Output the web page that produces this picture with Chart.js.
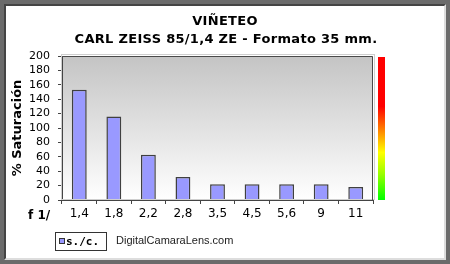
<!DOCTYPE html>
<html>
<head>
<meta charset="utf-8">
<script src="https://cdn.jsdelivr.net/npm/chart.js@4"></script>
<style>
  html, body { margin: 0; padding: 0; background: #6b6b6b; }
  #frame { position: absolute; left: 4px; top: 4px; width: 438px; height: 252px;
           background: #fff; border-top: 2px solid #444; border-left: 2px solid #444;
           border-right: 2px solid #ddd; border-bottom: 2px solid #ddd; }
  #wrap { position: absolute; left: 0; top: 0; width: 450px; height: 264px; }
</style>
</head>
<body>
<div id="frame"></div>
<div id="wrap"><canvas id="vineteo" width="450" height="264"></canvas></div>
<script>
const aperturas = ['1,4', '1,8', '2,2', '2,8', '3,5', '4,5', '5,6', '9', '11'];
const saturacion = [153, 116, 63, 32, 22, 22, 22, 22, 18];
const titulo = ['VIÑETEO', 'CARL ZEISS 85/1,4 ZE - Formato 35 mm.'];
const serie = 's./c.';
const fuente = 'DigitalCamaraLens.com';

// fondo degradado del area de trazado, titulos, barra de color y leyenda
const extras = {
    id: 'extras',
    beforeDraw(chart) {
        const { ctx, chartArea: a } = chart;
        const g = ctx.createLinearGradient(0, a.top, 0, a.bottom);
        g.addColorStop(0, '#c4c4c4');
        g.addColorStop(1, '#ffffff');
        ctx.save();
        ctx.fillStyle = g;
        ctx.fillRect(a.left, a.top, a.right - a.left, a.bottom - a.top);
        ctx.restore();
    },
    afterDraw(chart) {
        const { ctx, chartArea: a } = chart;
        ctx.save();
        // titulos centrados en la imagen
        ctx.fillStyle = '#000';
        ctx.font = 'bold 13px "DejaVu Sans"';
        ctx.textAlign = 'center';
        ctx.textBaseline = 'middle';
        ctx.letterSpacing = '0.3px';
        ctx.fillText(titulo[0], 225, 22);
        ctx.fillText(titulo[1], 226, 40);
        ctx.letterSpacing = '0px';

        // borde del area
        ctx.strokeStyle = '#cfcfcf';
        ctx.lineWidth = 1;
        ctx.strokeRect(a.left - 0.5, a.top - 1.5, a.right - a.left + 2, a.bottom - a.top + 1);
        ctx.strokeStyle = '#4a4a4a';
        ctx.beginPath();
        ctx.moveTo(a.left, a.top + 0.5);
        ctx.lineTo(a.right - 0.5, a.top + 0.5);
        ctx.lineTo(a.right - 0.5, a.bottom);
        ctx.stroke();

        // barra de color
        const cg = ctx.createLinearGradient(0, a.top, 0, a.bottom);
        cg.addColorStop(0, '#ff0000');
        cg.addColorStop(0.35, '#ff0000');
        cg.addColorStop(0.5, '#ff7700');
        cg.addColorStop(0.67, '#ffff00');
        cg.addColorStop(0.82, '#99ff00');
        cg.addColorStop(1, '#00ff00');
        ctx.fillStyle = cg;
        ctx.fillRect(378, a.top + 1, 7, a.bottom - a.top - 1);

        // f 1/
        ctx.fillStyle = '#000';
        ctx.font = 'bold 12px "DejaVu Sans"';
        ctx.textAlign = 'left';
        ctx.fillText('f 1/', 28, 216);

        // leyenda
        ctx.strokeStyle = '#333';
        ctx.strokeRect(55.5, 232.5, 51, 18);
        ctx.fillStyle = '#9999ff';
        ctx.fillRect(59.5, 238.5, 5, 5);
        ctx.strokeStyle = '#333';
        ctx.strokeRect(59.5, 238.5, 5, 5);
        ctx.fillStyle = '#000';
        ctx.font = 'bold 11px "DejaVu Sans Mono"';
        ctx.fillText(serie, 66, 242);
        ctx.fillStyle = '#222';
        ctx.font = '11px "Liberation Sans"';
        ctx.fillText(fuente, 116, 241);
        ctx.restore();
    }
};

const ctx = document.getElementById('vineteo').getContext('2d');
const chart = new Chart(ctx, {
    type: 'bar',
    data: {
        labels: aperturas,
        datasets: [{
            label: serie,
            data: saturacion,
            backgroundColor: '#9999ff',
            borderColor: '#404040',
            borderWidth: { top: 1.5, left: 1.5, right: 1.5, bottom: 0 },
            borderSkipped: 'bottom',
            categoryPercentage: 0.86,
            barPercentage: 0.5
        }]
    },
    options: {
        responsive: false,
        animation: false,
        layout: { padding: { left: 10, right: 77, top: 56, bottom: 0 } },
        plugins: {
            legend: { display: false },
            tooltip: { enabled: false },
            title: { display: false }
        },
        scales: {
            x: {
                offset: true,
                grid: { display: true, drawOnChartArea: false, drawTicks: true, tickLength: 4, color: '#444', offset: true },
                border: { color: '#444', width: 1 },
                ticks: { color: '#000', font: { family: 'DejaVu Sans', size: 12 }, padding: 3, maxRotation: 0 },
                afterFit(scale) { scale.height = 64; }
            },
            y: {
                min: 0,
                max: 200,
                ticks: { stepSize: 20, autoSkip: false, color: '#000', font: { family: 'DejaVu Sans', size: 11 }, padding: 8 },
                grid: { display: true, drawOnChartArea: false, drawTicks: true, tickLength: 4, color: '#444' },
                border: { color: '#444', width: 1 },
                title: {
                    display: true,
                    text: '% Saturación',
                    color: '#000',
                    font: { family: 'DejaVu Sans', size: 13, weight: 'bold' },
                    padding: { top: 0, bottom: 4 }
                },
                afterFit(scale) { scale.width = 52; }
            }
        }
    },
    plugins: [extras]
});
</script>
</body>
</html>
